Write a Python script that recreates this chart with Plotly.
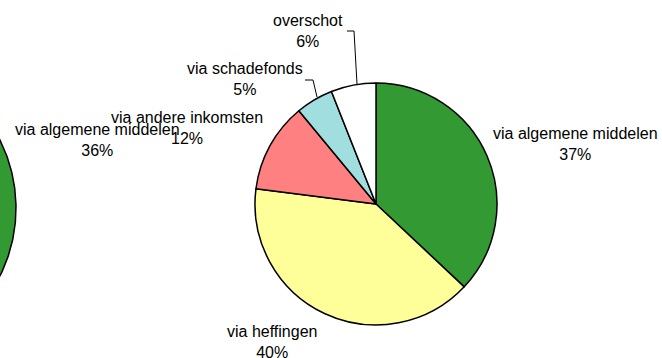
import numpy as np
import plotly.graph_objects as go

# Main pie: funding shares (percent), clockwise from 12 o'clock
labels = ["via algemene middelen", "via heffingen", "via andere inkomsten",
          "via schadefonds", "overschot"]
values = [37, 40, 12, 5, 6]
colors = ["#339933", "#FFFF99", "#FF8080", "#A0DEE0", "#FFFFFF"]

# Neighbouring pie, only its first slice falls inside the canvas
left_label = "via algemene middelen"
left_value = 36

W, H = 662, 358
FONT = dict(family="Liberation Sans, Arial, sans-serif", size=16, color="#000000")

fig = go.Figure()

# Left pie (mostly off-canvas): its first slice as a filled wedge
lcx, lcy, lr = -136, 208, 152
theta = np.radians(np.linspace(90, 90 - 360 * left_value / 100, 200))
wx = np.concatenate([[lcx], lcx + lr * np.cos(theta), [lcx]])
wy = np.concatenate([[lcy], lcy - lr * np.sin(theta), [lcy]])
fig.add_trace(go.Scatter(
    x=wx, y=wy, mode="lines", fill="toself", fillcolor="#339933",
    line=dict(color="#000000", width=1.5), hoverinfo="skip", showlegend=False))

# Right pie
cx, cy, r = 376, 204, 121
fig.add_trace(go.Pie(
    labels=labels, values=values, sort=False, direction="clockwise", rotation=0,
    marker=dict(colors=colors, line=dict(color="#000000", width=1.5)),
    textinfo="none", hoverinfo="label+percent", showlegend=False,
    domain=dict(x=[(cx - r) / W, (cx + r) / W],
                y=[(H - cy - r) / H, (H - cy + r) / H])))

# Slice labels: name on the first line, share on the second
label_pos = {
    "via algemene middelen": (575, 144),
    "via heffingen": (272, 342),
    "via andere inkomsten": (187, 128),
    "via schadefonds": (245, 79),
    "overschot": (308, 31),
}
annotations = []
for lab, val in zip(labels, values):
    x, y = label_pos[lab]
    annotations.append(dict(x=x, y=y, xref="x", yref="y", showarrow=False,
                            text=f"{lab}<br>{val}%", font=FONT,
                            xanchor="center", yanchor="middle"))
annotations.append(dict(x=97, y=140, xref="x", yref="y", showarrow=False,
                        text=f"{left_label}<br>{left_value}%", font=FONT,
                        xanchor="center", yanchor="middle"))

# Elbow leader lines for the two narrow slices
shapes = [
    dict(type="path", xref="x", yref="y", path="M 305 80 L 313 80 L 317 97",
         line=dict(color="#000000", width=1)),
    dict(type="path", xref="x", yref="y", path="M 347 31 L 354 31 L 357 84",
         line=dict(color="#000000", width=1)),
]

fig.update_layout(
    width=W, height=H, margin=dict(l=0, r=0, t=0, b=0),
    paper_bgcolor="#FFFFFF", plot_bgcolor="#FFFFFF",
    xaxis=dict(range=[0, W], visible=False, fixedrange=True),
    yaxis=dict(range=[H, 0], visible=False, fixedrange=True),
    annotations=annotations, shapes=shapes,
)

fig.write_html("out.html")
